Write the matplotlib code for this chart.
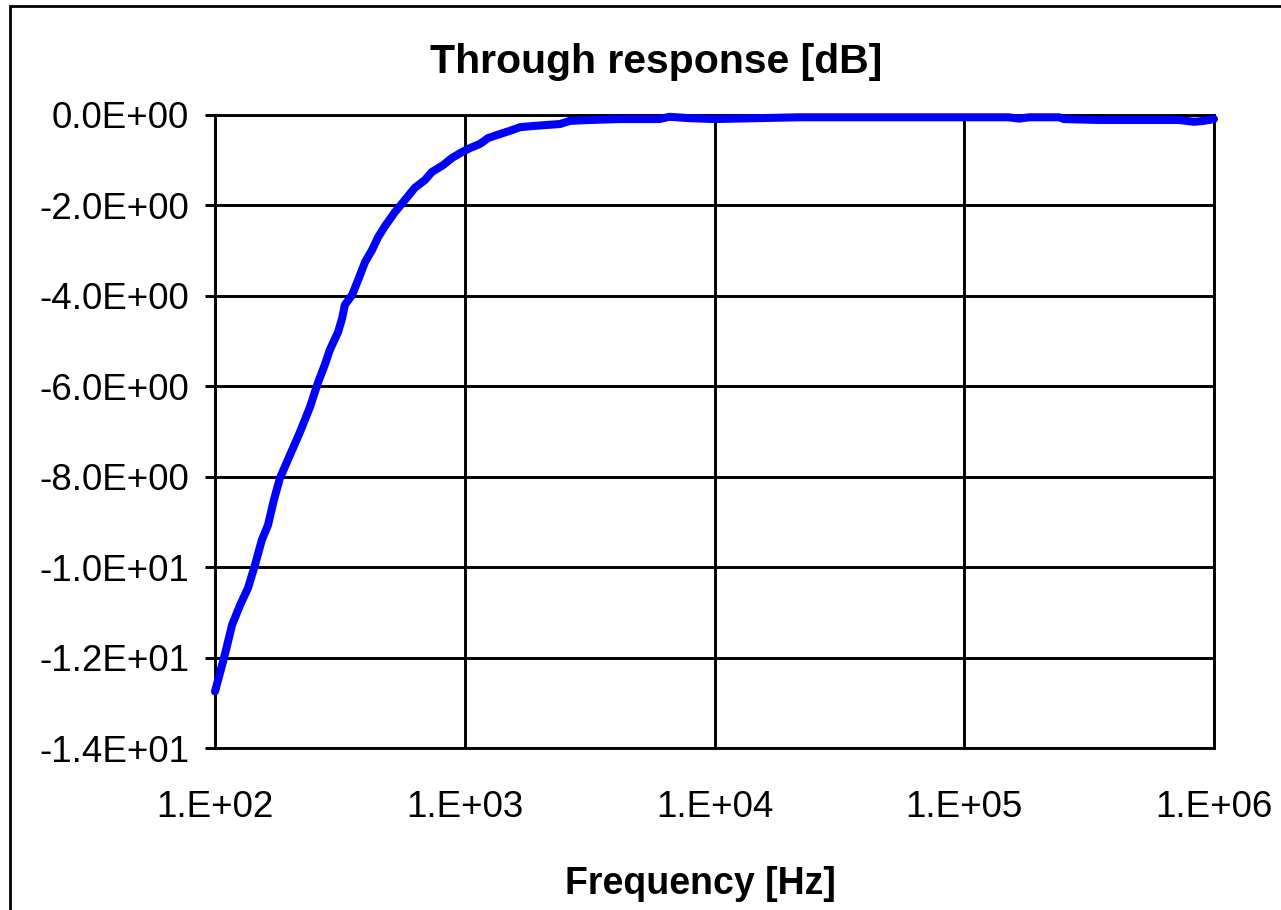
import matplotlib.pyplot as plt
from matplotlib.patches import Rectangle
from matplotlib.ticker import FixedLocator, FuncFormatter, NullLocator
import numpy as np

plt.rcParams['font.family'] = ['Liberation Sans', 'DejaVu Sans']

# frequency [Hz] and through response [dB]
freq = [100, 106.7, 110.7, 117, 126, 135.6, 144.6, 154, 163, 172, 182,
        199.6, 219, 240, 258, 275, 288, 311, 323, 331, 354, 374, 399, 425,
        450, 479, 525, 576, 631, 692, 739, 818, 889, 975, 1050, 1150, 1240,
        1384, 1517, 1663, 1910, 2404, 2636, 3170, 4170, 6020, 6600, 7950,
        10000, 21900, 87100, 150000, 166000, 182000, 240000, 251000, 347000,
        724000, 832000, 912000, 1000000]
resp = [-12.75, -12.17, -11.83, -11.28, -10.84, -10.46, -9.95, -9.40, -9.07,
        -8.52, -8.03, -7.52, -7.01, -6.46, -5.93, -5.53, -5.20, -4.80, -4.49,
        -4.20, -3.98, -3.65, -3.25, -2.99, -2.70, -2.46, -2.15, -1.88, -1.61,
        -1.44, -1.26, -1.11, -0.95, -0.82, -0.73, -0.64, -0.51, -0.42, -0.35,
        -0.27, -0.24, -0.20, -0.13, -0.11, -0.09, -0.09, -0.04, -0.07, -0.09,
        -0.05, -0.05, -0.05, -0.08, -0.05, -0.05, -0.09, -0.11, -0.11, -0.15,
        -0.13, -0.09]
y_ticks = [0, -2, -4, -6, -8, -10, -12, -14]
x_ticks = [1e2, 1e3, 1e4, 1e5, 1e6]

W, H = 1281, 910
fig = plt.figure(figsize=(W / 100, H / 100), dpi=100)
fig.set_facecolor('white')

# outer chart frame (cut off at right and bottom like the original)
fig.patches.append(Rectangle((9.5 / W, -0.1), 1.2, 1 - 6 / H + 0.1,
                             transform=fig.transFigure, fill=False,
                             edgecolor='black', lw=2, zorder=0))

ax = fig.add_axes([215 / W, 1 - 748 / H, (1214 - 215) / W, (748 - 115) / H])
ax.set_xscale('log')
ax.set_xlim(1e2, 1e6)
ax.set_ylim(-14, 0)

ax.plot(freq, resp, color='#0000FF', lw=5.8, solid_capstyle='round',
        solid_joinstyle='round', clip_on=False, zorder=5)

ax.yaxis.set_major_locator(FixedLocator(y_ticks))
ax.yaxis.set_major_formatter(FuncFormatter(lambda v, p: '{:.1E}'.format(v)))
ax.xaxis.set_major_locator(FixedLocator(x_ticks))
ax.xaxis.set_minor_locator(NullLocator())
ax.xaxis.set_major_formatter(
    FuncFormatter(lambda v, p: '1.E+{:02d}'.format(int(round(np.log10(v))))))

ax.grid(True, color='black', lw=2.1)
ax.set_axisbelow(True)
for s in ax.spines.values():
    s.set_linewidth(2.1)
    s.set_color('black')

ax.tick_params(axis='y', direction='out', length=7.5, width=2.1,
               labelsize=26.5, pad=11)
ax.tick_params(axis='x', length=0, labelsize=26.5, pad=30)

fig.text(656 / W, 1 - 62 / H, 'Through response [dB]', ha='center',
         va='center', fontsize=29.5, fontweight='bold')
fig.text(700 / W, 1 - 884 / H, 'Frequency [Hz]', ha='center',
         va='center', fontsize=27, fontweight='bold')

plt.savefig('out.png', dpi=100)
